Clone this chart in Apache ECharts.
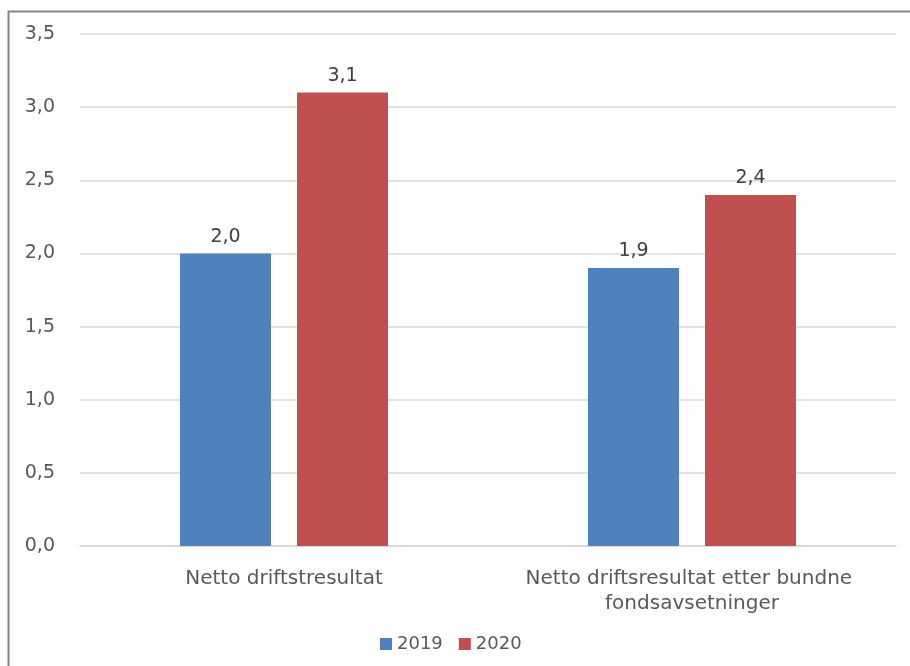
<!DOCTYPE html>
<html>
<head>
<meta charset="utf-8">
<script src="https://cdn.jsdelivr.net/npm/echarts@6/dist/echarts.min.js"></script>
<style>
  html, body { margin: 0; padding: 0; background: #fff; }
  #chart { width: 910px; height: 666px; }
</style>
</head>
<body>
<div id="chart"></div>
<script>
const categories = ["Netto driftstresultat", "Netto driftsresultat etter bundne fondsavsetninger"];
const seriesNames = ["2019", "2020"];
const values2019 = [2.0, 1.9];
const values2020 = [3.1, 2.4];
const colors = ["#4f81bd", "#c0504d"];

function fmt(v) {
  return Number(v).toFixed(1).replace(".", ",");
}

document.addEventListener("DOMContentLoaded", function () {
  let chartDom = document.getElementById("chart");
  let myChart = echarts.init(chartDom);
  const font = "DejaVu Sans";

  let option = {
    backgroundColor: "#fff",
    animation: false,
    textStyle: { fontFamily: font },
    graphic: [
      {
        type: "rect",
        shape: { x: 8.5, y: 11.5, width: 960, height: 700 },
        style: { fill: "none", stroke: "#868686", lineWidth: 2 },
        silent: true,
      },
    ],
    grid: { left: 80, right: 14, top: 34, bottom: 120 },
    legend: {
      bottom: 8,
      left: 375,
      itemWidth: 12,
      itemHeight: 12,
      itemGap: 16,
      icon: "rect",
      textStyle: { color: "#595959", fontSize: 18, fontFamily: font },
      data: seriesNames,
    },
    xAxis: {
      type: "category",
      data: categories,
      axisLine: { lineStyle: { color: "#d9d9d9", width: 1.5 } },
      axisTick: { show: false },
      axisLabel: {
        interval: 0,
        color: "#595959",
        fontSize: 20,
        margin: 20,
        lineHeight: 25,
        width: 390,
        overflow: "break",
      },
    },
    yAxis: {
      type: "value",
      min: 0,
      max: 3.5,
      interval: 0.5,
      axisLine: { show: false },
      axisTick: { show: false },
      splitLine: { lineStyle: { color: "#d9d9d9", width: 1.5 } },
      axisLabel: {
        color: "#595959",
        fontSize: 19,
        margin: 25,
        formatter: fmt,
      },
    },
    series: [
      {
        name: seriesNames[0],
        type: "bar",
        data: values2019,
        barWidth: 91,
        barGap: "28.6%",
        itemStyle: { color: colors[0] },
        label: {
          show: true,
          position: "top",
          distance: 7,
          color: "#404040",
          fontSize: 19,
          formatter: function (p) { return fmt(p.value); },
        },
      },
      {
        name: seriesNames[1],
        type: "bar",
        data: values2020,
        barWidth: 91,
        barGap: "28.6%",
        itemStyle: { color: colors[1] },
        label: {
          show: true,
          position: "top",
          distance: 7,
          color: "#404040",
          fontSize: 19,
          formatter: function (p) { return fmt(p.value); },
        },
      },
    ],
  };

  myChart.setOption(option);

  window.addEventListener("resize", function () {
    myChart.resize();
  });
});
</script>
</body>
</html>
